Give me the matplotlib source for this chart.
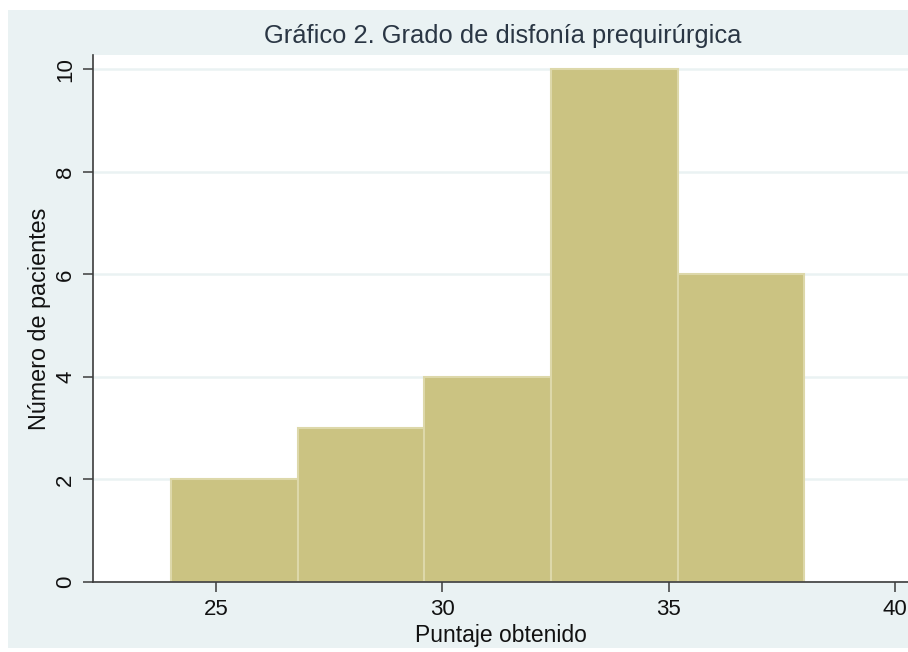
import matplotlib.pyplot as plt
from matplotlib.patches import Rectangle
import numpy as np

# Histogram data (bins of width 2.8 starting at 24)
bin_edges = [24.0, 26.8, 29.6, 32.4, 35.2, 38.0]
counts = [2, 3, 4, 10, 6]
x_ticks = [25, 30, 35, 40]
y_ticks = [0, 2, 4, 6, 8, 10]

plt.rcParams['font.family'] = ['Liberation Sans', 'DejaVu Sans']

W, H = 908, 652
fig = plt.figure(figsize=(W / 100, H / 100), dpi=100, facecolor='white')

# Stata-like graph region
fig.patches.append(Rectangle((8 / W, 1 - 648 / H), (W - 8) / W, (648 - 10) / H,
                             transform=fig.transFigure, facecolor='#eaf2f3',
                             edgecolor='none', zorder=-5))

left, right, top, bottom = 93, 908, 55, 582
ax = fig.add_axes([left / W, 1 - bottom / H, (right - left) / W, (bottom - top) / H])
ax.set_facecolor('white')

edges = np.array(bin_edges)
ax.bar(edges[:-1], counts, width=np.diff(edges), align='edge',
       color='#cbc382', edgecolor='#ddd8aa', linewidth=1.5, zorder=2)

ax.set_xlim(22.28, 40.29)
ax.set_ylim(0, 10.28)
ax.set_xticks(x_ticks)
ax.set_yticks(y_ticks)
ax.yaxis.grid(True, color='#eaf2f3', linewidth=1.8, zorder=1)
ax.set_axisbelow(True)

for side in ('top', 'right'):
    ax.spines[side].set_visible(False)
for side in ('left', 'bottom'):
    ax.spines[side].set_color('#3c3c3c')
    ax.spines[side].set_linewidth(1.2)

ax.tick_params(axis='both', direction='out', length=7, width=1.1, color='#3c3c3c',
               labelsize=16, labelcolor='#111111', pad=5)
ax.tick_params(axis='y', labelrotation=90)
for lab in ax.get_yticklabels():
    lab.set_verticalalignment('center')

ax.set_xlabel('Puntaje obtenido', fontsize=16.5, color='#111111', labelpad=3)
ax.set_ylabel('Número de pacientes', fontsize=16.8, color='#111111', labelpad=3)
fig.text(503 / W, 1 - 36 / H, 'Gráfico 2. Grado de disfonía prequirúrgica',
         ha='center', va='center', fontsize=18.4, color='#2a3644')

fig.savefig('out.png', dpi=100, facecolor='white')
